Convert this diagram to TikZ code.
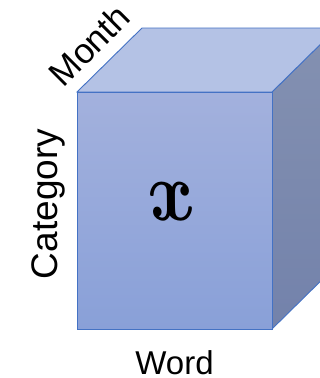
\documentclass[tikz,border=0pt]{standalone}
\usepackage{fontspec}
\setmainfont{Liberation Sans}
\begin{document}
\begin{tikzpicture}[x=1pt,y=-1pt,
  edge/.style={draw=edgeblue,line width=0.9pt,line join=miter},
  lbl/.style={inner sep=0pt,font=\fontsize{33}{33}\selectfont}]
\definecolor{edgeblue}{HTML}{4472C4}
\definecolor{fronttop}{HTML}{A3B1DD}
\definecolor{frontbot}{HTML}{89A0D8}
\definecolor{topface}{HTML}{B4C2E5}
\definecolor{sidetop}{HTML}{8491B1}
\definecolor{sidebot}{HTML}{7382AB}
\useasboundingbox (0,0) rectangle (320,378);
\coordinate (A) at (77,92);
\coordinate (B) at (272,92);
\coordinate (C) at (272,329);
\coordinate (D) at (77,329);
\coordinate (E) at (142,28);
\coordinate (F) at (337,28);
\coordinate (G) at (337,265);
\begin{scope}
\clip (0,0) rectangle (320,378);
\shade[top color=sidetop,bottom color=sidebot] (B) -- (F) -- (G) -- (C) -- cycle;
\draw[edge] (B) -- (F) -- (G) -- (C) -- cycle;
\fill[topface] (A) -- (E) -- (F) -- (B) -- cycle;
\draw[edge] (A) -- (E) -- (F) -- (B) -- cycle;
\shade[top color=fronttop,bottom color=frontbot] (A) rectangle (C);
\draw[edge] (A) rectangle (C);
\end{scope}
\node[inner sep=0pt,xslant=-0.22,transform shape] (x) at (172,202) {\scalebox{7.2}[8.5]{\boldmath$x$}};
\node[lbl,anchor=base] (word) at (174.5,374) {Word};
\node[lbl,anchor=base,rotate=90,font=\fontsize{37}{37}\selectfont] (cat) at (57,204) {Category};
\node[lbl,anchor=base,rotate=45,font=\fontsize{35}{35}\selectfont] (month) at (98,54) {Month};
\end{tikzpicture}
\end{document}
